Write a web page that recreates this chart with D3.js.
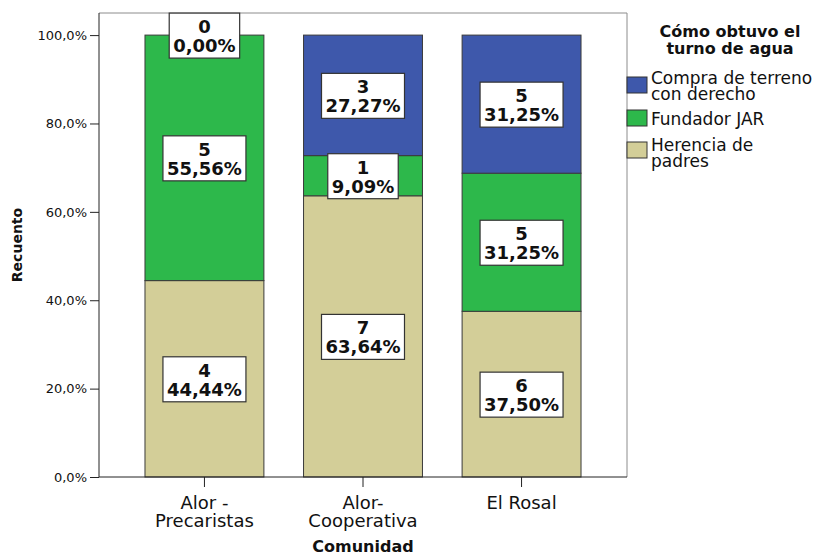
<!DOCTYPE html>
<html>
<head>
<meta charset="utf-8">
<script src="https://cdn.jsdelivr.net/npm/d3@7"></script>
<style>
  body { margin: 0; background: #fff; }
  text { font-family: "DejaVu Sans", sans-serif; fill: #111; }
</style>
</head>
<body>
<div id="chart"></div>
<script>
// data
var comunidades = ["Alor - Precaristas", "Alor-Cooperativa", "El Rosal"];
var comunidadLines = [["Alor -", "Precaristas"], ["Alor-", "Cooperativa"], ["El Rosal"]];
var herencia = [4, 7, 6];
var fundador = [5, 1, 5];
var compra = [0, 3, 5];
var seriesNames = ["Herencia de padres", "Fundador JAR", "Compra de terreno con derecho"];
var legendLines = [["Compra de terreno", "con derecho"], ["Fundador JAR"], ["Herencia de", "padres"]];
var yTicks = [0, 0.2, 0.4, 0.6, 0.8, 1.0];

var colors = {
    "Herencia de padres": "#d3ce98",
    "Fundador JAR": "#2db84b",
    "Compra de terreno con derecho": "#3e58ab"
};

var W = 834, H = 556,
    pLeft = 99, pRight = 627, pTop = 13, pBottom = 477;

var svg = d3.select("#chart").append("svg").attr("width", W).attr("height", H);

var rows = comunidades.map(function(c, i) {
    var tot = herencia[i] + fundador[i] + compra[i];
    return {
        comunidad: c,
        total: tot,
        "Herencia de padres": herencia[i],
        "Fundador JAR": fundador[i],
        "Compra de terreno con derecho": compra[i]
    };
});

var x = d3.scaleBand().domain(comunidades).range([pLeft, pRight])
    .paddingInner(0.25).paddingOuter(0.29);
var y = d3.scaleLinear().domain([0, 1.05]).range([pBottom, pTop]);

var stack = d3.stack().keys(seriesNames)
    .value(function(d, k) { return d[k] / d.total; });
var layers = stack(rows);

// frame
svg.append("line").attr("x1", pLeft).attr("x2", pRight).attr("y1", pTop).attr("y2", pTop)
    .attr("stroke", "#8c8c8c");
svg.append("line").attr("x1", pRight).attr("x2", pRight).attr("y1", pTop).attr("y2", pBottom)
    .attr("stroke", "#8c8c8c");

// bars
var g = svg.append("g");
layers.forEach(function(layer) {
    g.selectAll(null).data(layer).enter().append("rect")
        .attr("x", function(d) { return x(d.data.comunidad); })
        .attr("width", x.bandwidth())
        .attr("y", function(d) { return y(d[1]); })
        .attr("height", function(d) { return y(d[0]) - y(d[1]); })
        .attr("fill", colors[layer.key])
        .attr("stroke", "#3a3a3a")
        .attr("stroke-width", 1);
});

// axes
var yAxis = d3.axisLeft(y).tickValues(yTicks).tickSize(9).tickPadding(3)
    .tickFormat(function(d) { return d3.format(".1f")(d * 100).replace(".", ",") + "%"; });
var ya = svg.append("g").attr("transform", "translate(" + pLeft + ",0)").call(yAxis);
ya.select(".domain").attr("d", "M0," + pTop + "V" + pBottom).attr("stroke", "#222");
ya.selectAll(".tick line").attr("stroke", "#222");
ya.selectAll(".tick text").attr("font-family", "DejaVu Sans").attr("font-size", 13).attr("fill", "#222");

var xAxis = d3.axisBottom(x).tickSize(10).tickFormat("");
var xa = svg.append("g").attr("transform", "translate(0," + pBottom + ")").call(xAxis);
xa.select(".domain").attr("d", "M" + pLeft + ",0H" + pRight).attr("stroke", "#222");
xa.selectAll(".tick line").attr("stroke", "#222");

comunidades.forEach(function(c, i) {
    var t = svg.append("text")
        .attr("x", x(c) + x.bandwidth() / 2)
        .attr("y", 509)
        .attr("text-anchor", "middle")
        .attr("font-size", 18)
        .attr("fill", "#222");
    comunidadLines[i].forEach(function(l, j) {
        t.append("tspan").attr("x", x(c) + x.bandwidth() / 2).attr("dy", j ? 18 : 0).text(l);
    });
});

svg.append("text").attr("x", (pLeft + pRight) / 2).attr("y", 552)
    .attr("text-anchor", "middle").attr("font-weight", "bold").attr("font-size", 16)
    .text("Comunidad");

svg.append("text").attr("transform", "translate(22," + (pBottom + pTop) / 2 + ") rotate(-90)")
    .attr("text-anchor", "middle").attr("font-weight", "bold").attr("font-size", 14)
    .text("Recuento");

// value labels
var lab = svg.append("g");
layers.forEach(function(layer) {
    layer.forEach(function(d) {
        var cx = x(d.data.comunidad) + x.bandwidth() / 2,
            cy = y((d[0] + d[1]) / 2),
            n = d.data[layer.key],
            pct = d3.format(".2f")(n / d.data.total * 100).replace(".", ",") + "%";
        var box = lab.append("g");
        var rect = box.append("rect").attr("fill", "#fff").attr("stroke", "#333").attr("stroke-width", 1.2);
        var t1 = box.append("text").attr("x", cx).attr("y", cy - 2).attr("text-anchor", "middle")
            .attr("font-weight", "bold").attr("font-size", 18).text(n);
        var t2 = box.append("text").attr("x", cx).attr("y", cy + 17).attr("text-anchor", "middle")
            .attr("font-weight", "bold").attr("font-size", 18).text(pct);
        var w = Math.max(t1.node().getComputedTextLength(), t2.node().getComputedTextLength()) + 8;
        rect.attr("x", cx - w / 2).attr("width", w).attr("y", cy - 22).attr("height", 45);
    });
});

// legend
var lg = svg.append("g");
lg.append("text").attr("x", 730).attr("y", 37).attr("text-anchor", "middle")
    .attr("font-weight", "bold").attr("font-size", 16).text("Cómo obtuvo el");
lg.append("text").attr("x", 730).attr("y", 54).attr("text-anchor", "middle")
    .attr("font-weight", "bold").attr("font-size", 16).text("turno de agua");

var legendKeys = seriesNames.slice().reverse();
var swatchY = [77, 110, 142];
var textY = [84, 125, 151];
legendKeys.forEach(function(k, i) {
    lg.append("rect").attr("x", 627).attr("y", swatchY[i]).attr("width", 20).attr("height", 16)
        .attr("fill", colors[k]).attr("stroke", "#333");
    var t = lg.append("text").attr("x", 651).attr("y", textY[i]).attr("font-size", 17).attr("fill", "#222");
    legendLines[i].forEach(function(l, j) {
        t.append("tspan").attr("x", 651).attr("dy", j ? 16 : 0).text(l);
    });
});
</script>
</body>
</html>
